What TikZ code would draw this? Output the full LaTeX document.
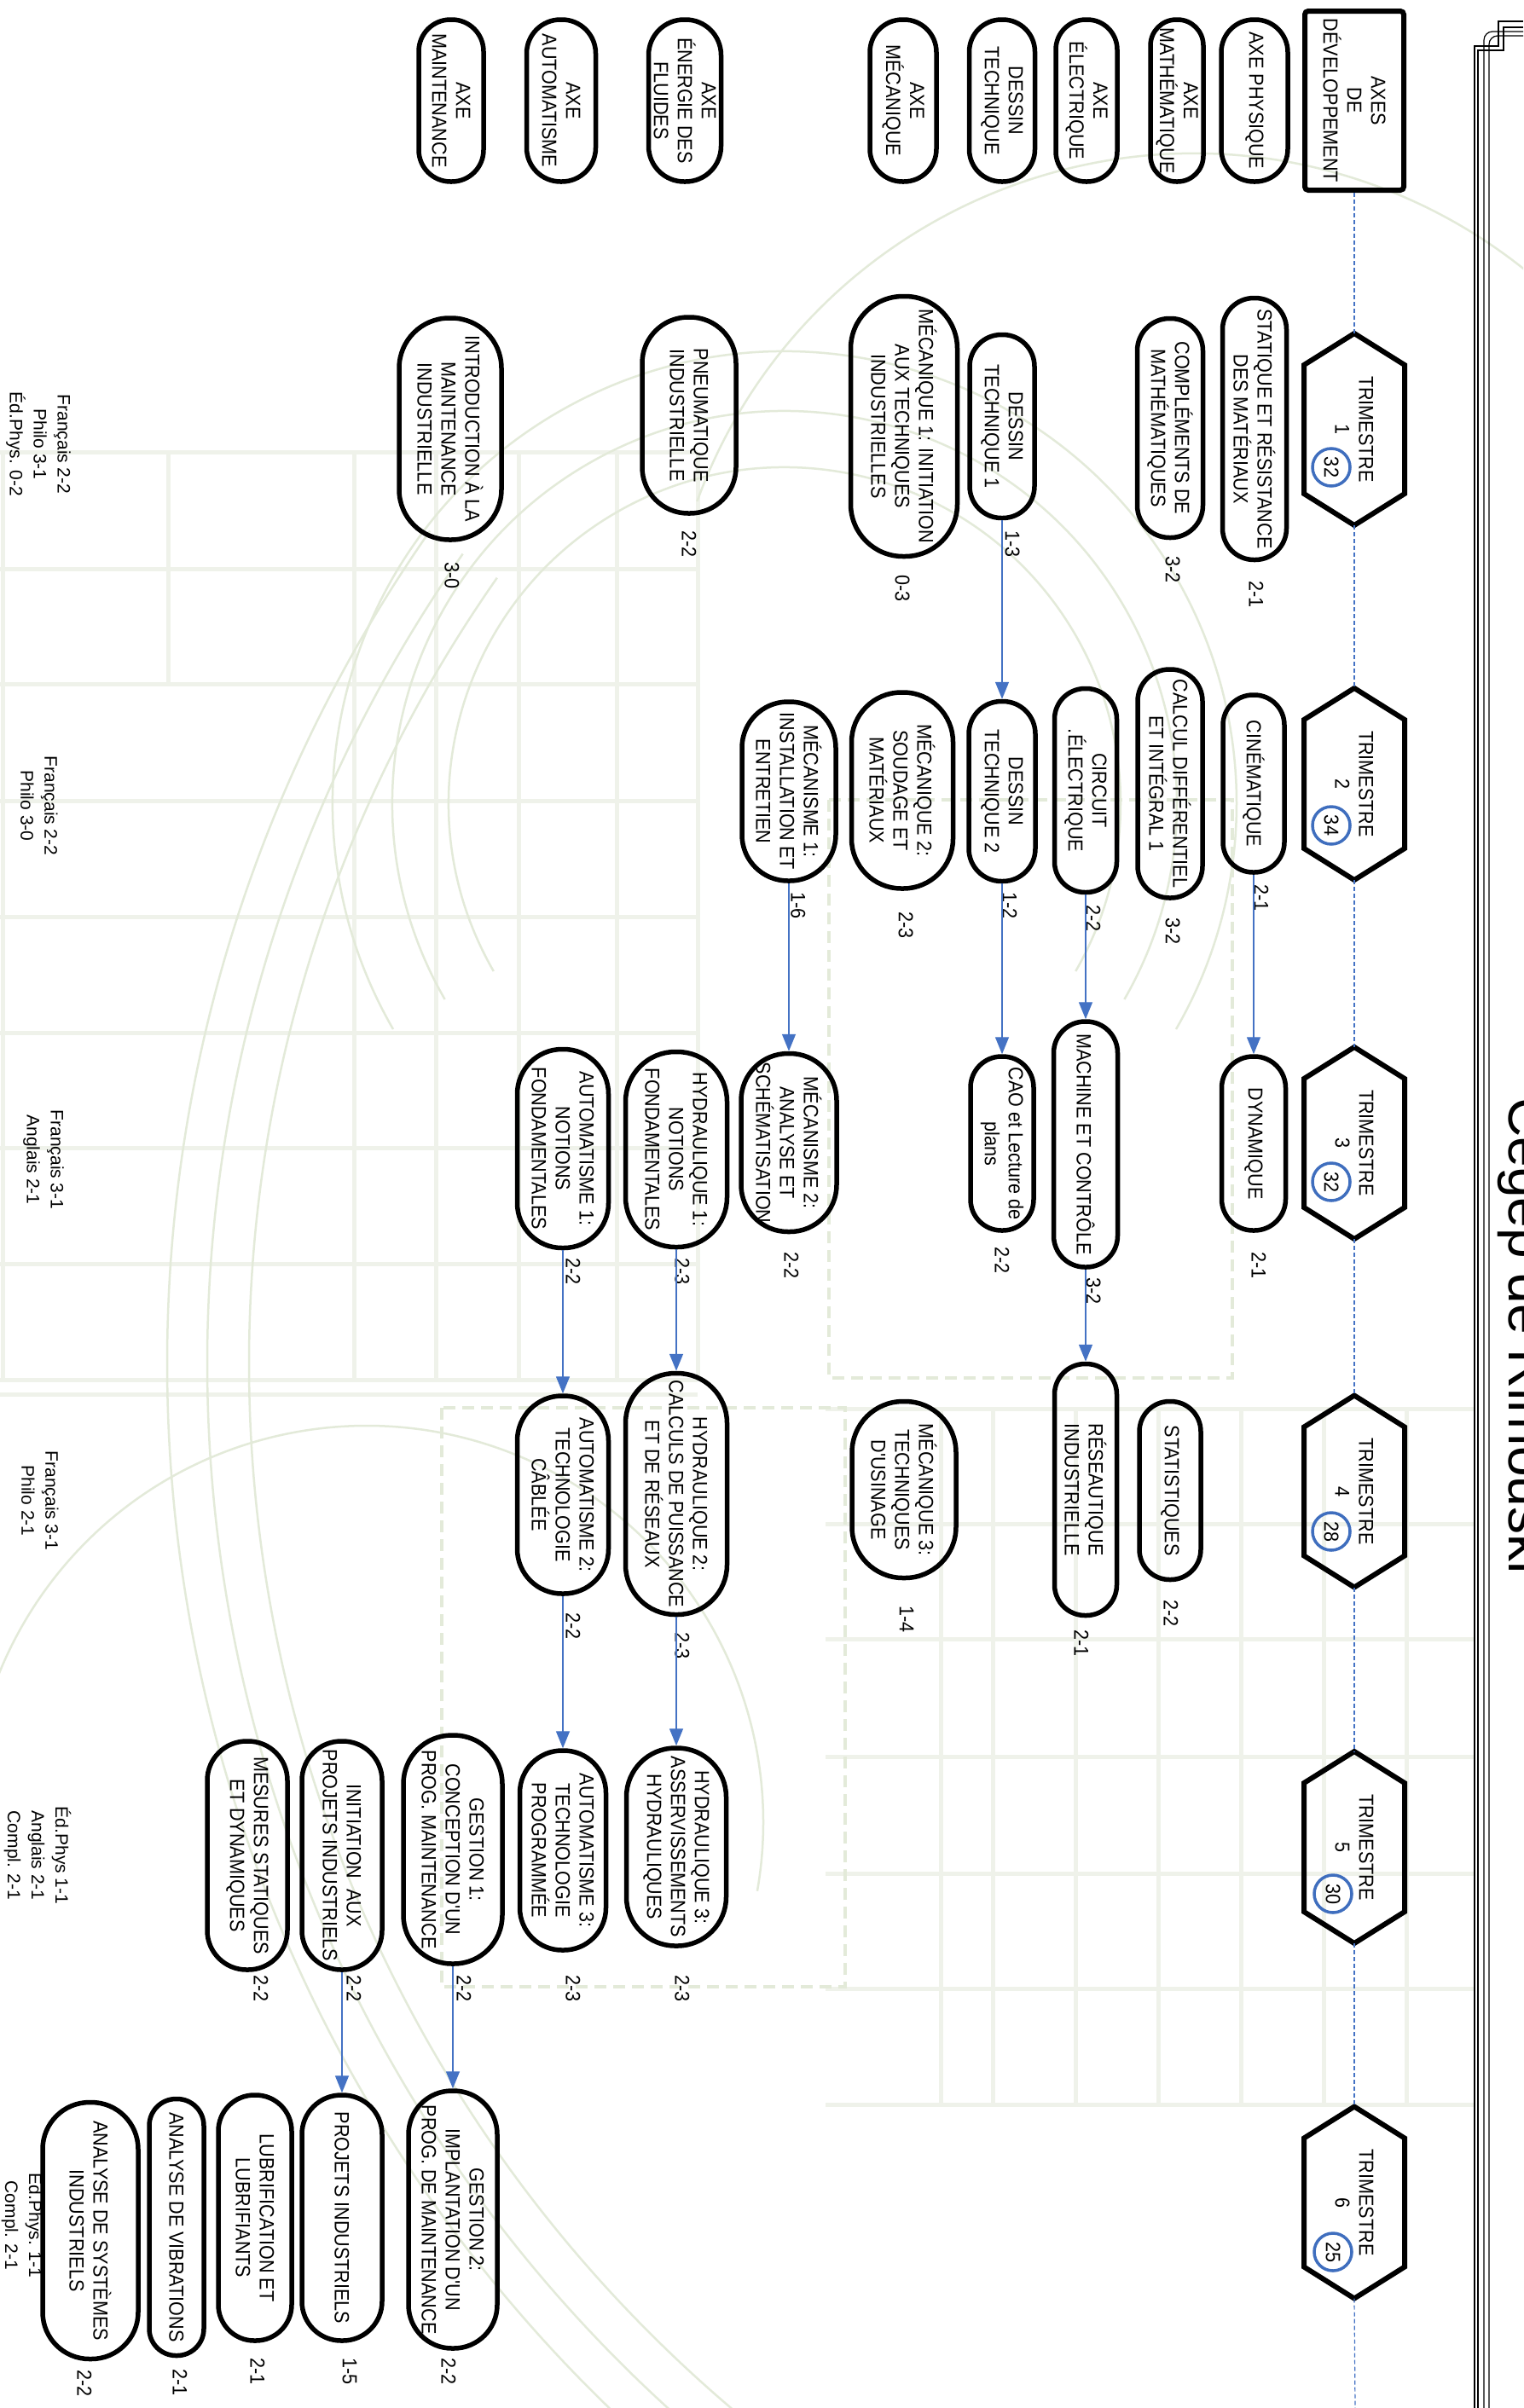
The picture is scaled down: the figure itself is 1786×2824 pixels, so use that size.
\documentclass[tikz,border=0pt]{standalone}
\usepackage{fontspec}
\setmainfont{Liberation Sans}
\newfontfamily\narrowf[FakeStretch=0.9]{Liberation Sans}
\usetikzlibrary{arrows.meta}
\definecolor{arrowblue}{HTML}{4472C4}
\definecolor{circblue}{HTML}{3F6EBE}
\definecolor{bggreen}{HTML}{E3EAD9}
\definecolor{bggrid}{HTML}{EFF2EA}
\tikzset{
  course/.style 2 args={draw=black, line width=5.5pt, rectangle, inner sep=0pt, minimum width=#1pt, minimum height=#2pt, rounded corners=0.49*#1pt},
  txt/.style={rotate=-90, align=center, inner sep=0pt, font=\narrowf\fontsize{24}{28}\selectfont},
  gen/.style={rotate=-90, align=center, inner sep=0pt, font=\fontsize{21}{28}\selectfont},
  hexbox/.style={rectangle, draw=none, inner sep=0pt, outer sep=0pt, minimum width=118pt, minimum height=225pt},
  hexline/.style={draw=black, line width=6pt, line join=miter},
  numc/.style={circle, draw=circblue, line width=3.5pt, minimum size=44pt, inner sep=0pt},
  arr/.style={draw=arrowblue, line width=1.4pt, -{Triangle[length=20pt,width=16pt]}},
  vdash/.style={draw=arrowblue, line width=1.2pt, dash pattern=on 5pt off 3pt},
  bgarc/.style={draw=bggreen, line width=2.5pt},
  bggr/.style={draw=bggrid, line width=5pt},
  bgdash/.style={draw=bggreen, line width=4pt, dash pattern=on 14pt off 8pt},
  border/.style={draw=black, line width=1.2pt},
}
\newcommand{\course}[6]{\node[course={#4}{#5}] (#1) at (#2,#3) {};\node[txt] (#1-t) at (#1.center) {#6};}
\newcommand{\cred}[4]{\node[txt] (#1) at (#2,#3) {#4};}
\newcommand{\hexa}[3]{\node[hexbox] (#1) at (1588,#2) {};
  \draw[hexline] (#1.north) -- ([yshift=-37pt]#1.north east) -- ([yshift=37pt]#1.south east) -- (#1.south) -- ([yshift=37pt]#1.south west) -- ([yshift=-37pt]#1.north west) -- cycle;
  \node[txt] (#1-t) at (#1.center) {TRIMESTRE\\#3};}
\newcommand{\numcirc}[4]{\node[numc] (#1) at (#2,#3) {};\node[txt] (#1-t) at (#1.center) {#4};}
\begin{document}
\begin{tikzpicture}[x=1pt,y=-1pt]
\useasboundingbox (0,0) rectangle (1786,2824);
\clip (0,0) rectangle (1786,2824);
\fill[white] (0,0) rectangle (1786,2824);
% ---------- background decoration ----------
\foreach \yy in {530,667,802,939,1075,1211,1346,1482,1618} {\draw[bggr] (0,\yy) -- (818,\yy);}
\foreach \xx in {3,415,511,608,723,818} {\draw[bggr] (\xx,530) -- (\xx,1618);}
\draw[bggr] (197,530) -- (197,802);
\draw[bggr] (0,1635) -- (818,1635);
\foreach \yy in {1652,1787,1922,2060,2197,2332,2468} {\draw[bggr] (968,\yy) -- (1728,\yy);}
\foreach \xx in {1103,1164,1261,1358,1455,1552,1649} {\draw[bggr] (\xx,1652) -- (\xx,2468);}
\draw[bgdash] (972,938) rectangle (1445,1616);
\draw[bgdash] (518,1651) rectangle (991,2330);
\foreach \r in {394,460,530} {\draw[bgarc, shift={(920,942)}] (150:\r) arc[start angle=150, end angle=390, radius=\r];}
\foreach \r in {1608,1657,1704} {\draw[bgarc, shift={(1900,1600)}] (215:\r) arc[start angle=215, end angle=130, radius=\r];}
\draw[bgarc, shift={(430,2137)}] (170:465) arc[start angle=170, end angle=370, radius=465];
\draw[bgarc, shift={(1400,800)}] (200:620) arc[start angle=200, end angle=345, radius=620];
% ---------- page border at right ----------
\draw[border] (1729,2824) -- (1729,54) -- (1757,54) -- (1757,25) -- (1786,25);
\draw[border] (1733,2824) -- (1733,59) -- (1763,59) -- (1763,32) -- (1786,32);
\draw[border, rounded corners=10pt] (1740,2824) -- (1740,37) -- (1786,37);
\draw[border, rounded corners=10pt] (1746,2824) -- (1746,42) -- (1786,42);
\node[rotate=-90, anchor=base west, inner sep=0pt, font=\fontsize{64}{64}\selectfont] (cegep) at (1769,1287) {Cégep de Rimouski};
% ---------- header ----------
\node[draw=black, line width=6pt, rounded corners=4pt, minimum width=116pt, minimum height=210pt, inner sep=0pt] (axes) at (1588,118) {};
\node[txt] (axes-t) at (axes.center) {AXES\\DE\\DÉVELOPPEMENT};
\course{hphys}{1471}{118}{78}{190}{AXE PHYSIQUE}
\course{hmath}{1380}{118}{62}{190}{AXE\\MATHÉMATIQUE}
\course{helec}{1274}{118}{72}{190}{AXE\\ÉLECTRIQUE}
\course{hdess}{1175}{118}{77}{190}{DESSIN\\TECHNIQUE}
\course{hmeca}{1059}{118}{78}{190}{AXE\\MÉCANIQUE}
\course{hener}{803}{118}{85}{190}{AXE\\ÉNERGIE DES\\FLUIDES}
\course{hauto}{658}{118}{81}{190}{AXE\\AUTOMATISME}
\course{hmain}{529}{118}{76}{190}{AXE\\MAINTENANCE}
% ---------- trimestres ----------
\hexa{t1}{503.5}{1}
\hexa{t2}{919.5}{2}
\hexa{t3}{1340.5}{3}
\hexa{t4}{1749}{4}
\hexa{t5}{2166.5}{5}
\hexa{t6}{2583}{6}
\numcirc{c1}{1561}{548}{32}
\numcirc{c2}{1561}{968}{34}
\numcirc{c3}{1561}{1386}{32}
\numcirc{c4}{1561}{1796}{28}
\numcirc{c5}{1563}{2221}{30}
\numcirc{c6}{1563}{2641}{25}
\coordinate (bottomend) at (1589,2824);
\draw[vdash] (axes.south) -- (t1.north);
\draw[vdash] (t1.south) -- (t2.north);
\draw[vdash] (t2.south) -- (t3.north);
\draw[vdash] (t3.south) -- (t4.north);
\draw[vdash] (t4.south) -- (t5.north);
\draw[vdash] (t5.south) -- (t6.north);
\draw[vdash] (t6.south) -- (bottomend);
% ---------- trimestre 1 ----------
\course{statique}{1471}{503}{75}{307}{STATIQUE ET RÉSISTANCE\\DES MATÉRIAUX}
\course{complmath}{1372}{502}{77}{257}{COMPLÉMENTS DE\\MATHÉMATIQUES}
\course{dt1}{1175}{500}{76}{215}{DESSIN\\TECHNIQUE 1}
\course{meca1}{1060}{500}{125}{305}{MÉCANIQUE 1: INITIATION\\AUX TECHNIQUES\\INDUSTRIELLES}
\course{pneu}{808}{487}{110}{230}{PNEUMATIQUE\\INDUSTRIELLE}
\course{intro}{528}{503}{120}{260}{INTRODUCTION À LA\\MAINTENANCE\\INDUSTRIELLE}
\cred{l-statique}{1473}{697}{2-1}
\cred{l-complmath}{1375}{668}{3-2}
\cred{l-dt1}{1187}{638}{1-3}
\cred{l-meca1}{1058}{690}{0-3}
\cred{l-pneu}{808}{638}{2-2}
\cred{l-intro}{530}{675}{3-0}
\node[gen] (gen1) at (45,521) {Français 2-2\\Philo 3-1\\Éd.Phys. 0-2};
% ---------- trimestre 2 ----------
\course{cine}{1470}{919}{72}{208}{CINÉMATIQUE}
\course{calc}{1372}{919}{76}{268}{CALCUL DIFFÉRENTIEL\\ET INTÉGRAL 1}
\course{circ}{1273}{927}{73}{239}{CIRCUIT\\.ÉLECTRIQUE}
\course{dt2}{1175}{928}{78}{211}{DESSIN\\TECHNIQUE 2}
\course{meca2}{1058}{927}{119}{230}{MÉCANIQUE 2:\\SOUDAGE ET\\MATÉRIAUX}
\course{mcsm1}{925}{928}{110}{210}{MÉCANISME 1:\\INSTALLATION ET\\ENTRETIEN}
\cred{l-cine}{1479}{1053}{2-1}
\cred{l-calc}{1375}{1092}{3-2}
\cred{l-circ}{1282}{1077}{2-2}
\cred{l-dt2}{1184}{1062}{1-2}
\cred{l-meca2}{1062}{1085}{2-3}
\cred{l-mcsm1}{936}{1062}{1-6}
\node[gen] (gen2) at (46,945) {Français 2-2\\Philo 3-0};
% ---------- trimestre 3 ----------
\course{dyn}{1470}{1341}{75}{204}{DYNAMIQUE}
\course{mach}{1273}{1342}{75}{288}{MACHINE ET CONTRÔLE}
\course{cao}{1175}{1341}{74}{204}{CAO et Lecture de\\plans}
\course{mcsm2}{925}{1340}{112}{209}{MÉCANISME 2:\\ANALYSE ET\\SCHÉMATISATION}
\course{hyd1}{793}{1348}{119}{229}{HYDRAULIQUE 1:\\NOTIONS\\FONDAMENTALES}
\course{aut1}{660}{1347}{107}{233}{AUTOMATISME 1:\\NOTIONS\\FONDAMENTALES}
\cred{l-dyn}{1476}{1484}{2-1}
\cred{l-mach}{1282}{1514}{3-2}
\cred{l-cao}{1175}{1478}{2-2}
\cred{l-mcsm2}{928}{1484}{2-2}
\cred{l-hyd1}{800}{1491}{2-3}
\cred{l-aut1}{672}{1491}{2-2}
\node[gen] (gen3) at (51,1360) {Français 3-1\\Anglais 2-1};
% ---------- trimestre 4 ----------
\course{stat}{1372}{1748}{72}{209}{STATISTIQUES}
\course{reseau}{1273}{1747}{73}{295}{RÉSEAUTIQUE\\INDUSTRIELLE}
\course{meca3}{1060}{1747}{122}{207}{MÉCANIQUE 3:\\TECHNIQUES\\D'USINAGE}
\course{hyd2}{793}{1752}{119}{283}{HYDRAULIQUE 2:\\CALCULS DE PUISSANCE\\ET DE RÉSEAUX}
\course{aut2}{660}{1753}{107}{232}{AUTOMATISME 2:\\TECHNOLOGIE\\CÂBLÉE}
\cred{l-stat}{1373}{1892}{2-2}
\cred{l-reseau}{1268}{1927}{2-1}
\cred{l-meca3}{1063}{1899}{1-4}
\cred{l-hyd2}{800}{1930}{2-3}
\cred{l-aut2}{672}{1907}{2-2}
\node[gen] (gen4) at (47,1760) {Français 3-1\\Philo 2-1};
% ---------- trimestre 5 ----------
\course{hyd3}{793}{2166}{117}{232}{HYDRAULIQUE 3:\\ASSERVISSEMENTS\\HYDRAULIQUES}
\course{aut3}{660}{2170}{101}{234}{AUTOMATISME 3:\\TECHNOLOGIE\\PROGRAMMÉE}
\course{gest1}{531}{2169}{116}{268}{GESTION 1:\\CONCEPTION D'UN\\PROG. MAINTENANCE}
\course{initp}{401}{2176}{94}{268}{INITIATION\ \ AUX\\PROJETS INDUSTRIELS}
\course{mesures}{290}{2176}{94}{268}{MESURES STATIQUES\\ET DYNAMIQUES}
\cred{l-hyd3}{800}{2332}{2-3}
\cred{l-aut3}{672}{2332}{2-3}
\cred{l-gest1}{544}{2332}{2-2}
\cred{l-initp}{415}{2332}{2-2}
\cred{l-mesures}{306}{2332}{2-2}
\node[gen] (gen5) at (44,2176) {Éd.Phys 1-1\\Anglais 2-1\\Compl. 2-1};
% ---------- trimestre 6 ----------
\course{gest2}{531}{2603}{104}{302}{GESTION 2:\\IMPLANTATION D'UN\\PROG. DE MAINTENANCE}
\course{proj}{401}{2601}{94}{288}{PROJETS INDUSTRIELS}
\course{lubri}{299}{2601}{86}{288}{LUBRIFICATION ET\\LUBRIFIANTS}
\course{vib}{207}{2612}{64}{301}{ANALYSE DE VIBRATIONS}
\course{sys}{106}{2616}{112}{301}{ANALYSE DE SYSTÈMES\\INDUSTRIELS}
\cred{l-gest2}{526}{2781}{2-2}
\cred{l-proj}{410}{2781}{1-5}
\cred{l-lubri}{302}{2781}{2-1}
\cred{l-vib}{211}{2794}{2-1}
\cred{l-sys}{99}{2795}{2-2}
\node[gen] (gen6) at (27,2610) {Éd.Phys. 1-1\\Compl. 2-1};
% ---------- prerequisite arrows ----------
\draw[arr] (dt1.south) -- (dt2.north);
\draw[arr] (dt2.south) -- (cao.north);
\draw[arr] (cine.south) -- (dyn.north);
\draw[arr] (circ.south) -- (mach.north);
\draw[arr] (mach.south) -- (reseau.north);
\draw[arr] (mcsm1.south) -- (mcsm2.north);
\draw[arr] (hyd1.south) -- (hyd2.north);
\draw[arr] (hyd2.south) -- (hyd3.north);
\draw[arr] (aut1.south) -- (aut2.north);
\draw[arr] (aut2.south) -- (aut3.north);
\draw[arr] (gest1.south) -- (gest2.north);
\draw[arr] (initp.south) -- (proj.north);
\end{tikzpicture}
\end{document}
